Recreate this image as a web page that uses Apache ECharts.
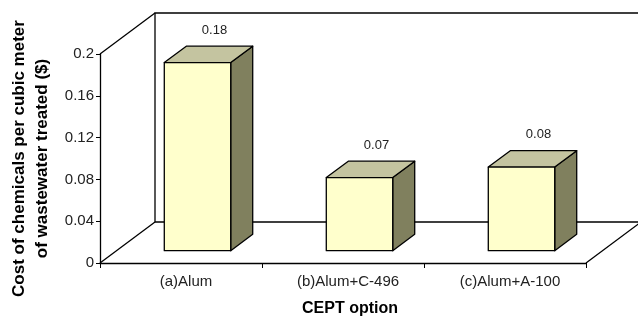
<!DOCTYPE html>
<html>
<head>
<meta charset="utf-8">
<script src="https://cdn.jsdelivr.net/npm/echarts@6/dist/echarts.min.js"></script>
<style>
  html, body { margin: 0; padding: 0; background: #fff; }
  #main { width: 638px; height: 320px; }
</style>
</head>
<body>
<div id="main"></div>
<script>
// data
var options = ['(a)Alum', '(b)Alum+C-496', '(c)Alum+A-100'];
var cost = [0.18, 0.07, 0.08];

// 3D look, in pixels
var DEPTH_X = 55, DEPTH_Y = -41;   // depth of the floor / walls
var BAR_FRONT = 0.3, BAR_BACK = 0.7; // where the bars sit in the depth
var BAR_RATIO = 0.41;

var chart = echarts.init(document.getElementById('main'));

function renderFrame(params, api) {
    var r = params.coordSys;
    var x0 = r.x, x1 = r.x + r.width, yTop = r.y, yBot = r.y + r.height;
    var line = { stroke: '#000', lineWidth: 1.3, fill: null };
    return {
        type: 'group',
        children: [
            // side wall top edge
            { type: 'polyline', shape: { points: [[x0, yTop], [x0 + DEPTH_X, yTop + DEPTH_Y]] }, style: line },
            // floor left edge
            { type: 'polyline', shape: { points: [[x0, yBot], [x0 + DEPTH_X, yBot + DEPTH_Y]] }, style: line },
            // floor right edge
            { type: 'polyline', shape: { points: [[x1, yBot], [x1 + DEPTH_X, yBot + DEPTH_Y]] }, style: line },
            // back wall
            { type: 'polyline', shape: { points: [
                [x1 + DEPTH_X, yBot + DEPTH_Y], [x0 + DEPTH_X, yBot + DEPTH_Y],
                [x0 + DEPTH_X, yTop + DEPTH_Y], [x1 + DEPTH_X, yTop + DEPTH_Y]] }, style: line }
        ]
    };
}

function renderBar(params, api) {
    var top = api.coord([api.value(0), api.value(1)]);
    var base = api.coord([api.value(0), 0]);
    var w = api.size([1, 0])[0] * BAR_RATIO;
    var fx = BAR_FRONT * DEPTH_X, fy = BAR_FRONT * DEPTH_Y;
    var bx = BAR_BACK * DEPTH_X, by = BAR_BACK * DEPTH_Y;
    var l = top[0] - w / 2, r = top[0] + w / 2;
    var edge = { stroke: '#000', lineWidth: 1.3, lineJoin: 'round' };
    return {
        type: 'group',
        children: [
            { type: 'polygon', shape: { points: [
                [r + fx, top[1] + fy], [r + bx, top[1] + by], [r + bx, base[1] + by], [r + fx, base[1] + fy]] },
              style: Object.assign({ fill: '#80805e' }, edge) },
            { type: 'polygon', shape: { points: [
                [l + fx, top[1] + fy], [l + bx, top[1] + by], [r + bx, top[1] + by], [r + fx, top[1] + fy]] },
              style: Object.assign({ fill: '#c4c4a0' }, edge) },
            { type: 'rect', shape: { x: l + fx, y: top[1] + fy, width: w, height: base[1] - top[1] },
              style: Object.assign({ fill: '#ffffcc' }, edge) },
            { type: 'text', x: top[0] + (fx + bx) / 2 + 6, y: top[1] + by - 16,
              style: { text: String(api.value(1)), fill: '#222', fontSize: 13,
                       fontFamily: 'Liberation Sans, Arial', align: 'center', verticalAlign: 'middle' } }
        ]
    };
}

var option = {
    backgroundColor: '#fff',
    animation: false,
    grid: { left: 100, right: 52, top: 54, bottom: 57, outerBoundsMode: 'none', containLabel: false },
    textStyle: { fontFamily: 'Liberation Sans, Arial' },
    xAxis: {
        type: 'category',
        data: options,
        name: 'CEPT option',
        nameLocation: 'middle',
        nameGap: 38,
        nameTextStyle: { fontSize: 16, fontWeight: 'bold', color: '#000', padding: [0, 0, 0, 14] },
        axisLine: { lineStyle: { color: '#000', width: 1.3 } },
        axisTick: { show: true, length: 5, lineStyle: { color: '#000' } },
        axisLabel: { fontSize: 15, color: '#222', margin: 11, padding: [0, 0, 0, 10] }
    },
    yAxis: {
        type: 'value',
        min: 0,
        max: 0.2,
        interval: 0.04,
        name: 'Cost of chemicals per cubic meter\nof wastewater treated ($)',
        nameLocation: 'middle',
        nameRotate: 90,
        nameGap: 46,
        nameTextStyle: { fontSize: 17, fontWeight: 'bold', color: '#000', lineHeight: 23 },
        axisLine: { show: true, lineStyle: { color: '#000', width: 1.3 } },
        axisTick: { show: true, length: 4, lineStyle: { color: '#000' } },
        splitLine: { show: false },
        axisLabel: { fontSize: 15, color: '#222', margin: 6 }
    },
    series: [
        {
            type: 'custom',
            renderItem: renderFrame,
            data: [[0, 0]],
            silent: true,
            clip: false,
            z: 1
        },
        {
            type: 'custom',
            renderItem: renderBar,
            data: cost.map(function (v, i) { return [i, v]; }),
            clip: false,
            z: 3
        }
    ]
};

chart.setOption(option);
</script>
</body>
</html>
